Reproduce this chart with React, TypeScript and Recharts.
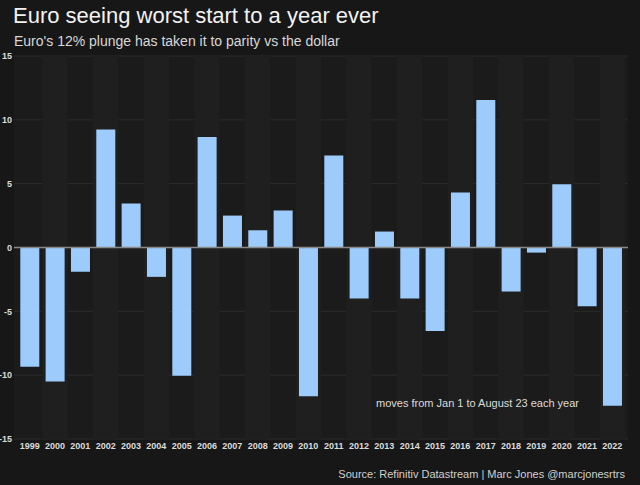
import React from 'react';
import { BarChart, Bar, XAxis, YAxis, CartesianGrid, ReferenceLine, ReferenceArea } from 'recharts';

const years = [
  '1999', '2000', '2001', '2002', '2003', '2004', '2005', '2006', '2007', '2008', '2009', '2010',
  '2011', '2012', '2013', '2014', '2015', '2016', '2017', '2018', '2019', '2020', '2021', '2022',
];

// euro % move, Jan 1 to Aug 23
const moves = [
  -9.35, -10.5, -1.9, 9.25, 3.45, -2.3, -10.05, 8.65, 2.5, 1.35, 2.9, -11.65,
  7.2, -4.0, 1.25, -4.0, -6.55, 4.3, 11.55, -3.45, -0.4, 4.95, -4.6, -12.4,
];

const yTicks = [-15, -10, -5, 0, 5, 10, 15];

const data = years.map((year, i) => ({ year, move: moves[i] }));

const font = '"Liberation Sans", Arial, sans-serif';

const App = () => {
  return (
    <div style={{ position: 'relative', width: 640, height: 485, background: '#171717', fontFamily: font }}>
      <style>{'body{margin:0}'}</style>
      <div style={{ position: 'absolute', left: 13, top: 3, fontSize: 22, color: '#f2f2f2' }}>
        Euro seeing worst start to a year ever
      </div>
      <div style={{ position: 'absolute', left: 14, top: 33, fontSize: 14, color: '#d8d8d8' }}>
        Euro's 12% plunge has taken it to parity vs the dollar
      </div>
      <BarChart
        width={640}
        height={485}
        data={data}
        margin={{ top: 56, right: 12, left: 0, bottom: 26 }}
        barCategoryGap="13%"
      >
        <CartesianGrid vertical={false} stroke="#2c2c2c" fill="#1b1b1b" />
        {years.filter((_, i) => i % 2 === 1).map((y) => (
          <ReferenceArea key={y} x1={y} x2={y} fill="#1f1f1f" fillOpacity={1} stroke="none" ifOverflow="visible" />
        ))}
        <XAxis
          dataKey="year"
          height={20}
          padding={{ left: 3, right: 3 }}
          axisLine={false}
          tickLine={false}
          interval={0}
          tickMargin={0}
          tick={{ fill: '#dcdcdc', fontSize: 9, fontWeight: 'bold', fontFamily: font, dy: -2 }}
        />
        <YAxis
          width={14}
          domain={[-15, 15]}
          ticks={yTicks}
          axisLine={false}
          tickLine={false}
          tickSize={0}
          tickMargin={2}
          tick={{ fill: '#dcdcdc', fontSize: 9, fontWeight: 'bold', fontFamily: font }}
        />
        <ReferenceLine y={0} stroke="#8a8a8a" strokeWidth={1.5} />
        <Bar dataKey="move" fill="#9ccbfc" isAnimationActive={false} />
      </BarChart>
      <div style={{ position: 'absolute', left: 376, top: 397, fontSize: 11, color: '#dcdcdc' }}>
        moves from Jan 1 to August 23 each year
      </div>
      <div style={{ position: 'absolute', right: 15, top: 468, fontSize: 11, color: '#d0d0d0' }}>
        Source: Refinitiv Datastream | Marc Jones @marcjonesrtrs
      </div>
    </div>
  );
};

export default App;
